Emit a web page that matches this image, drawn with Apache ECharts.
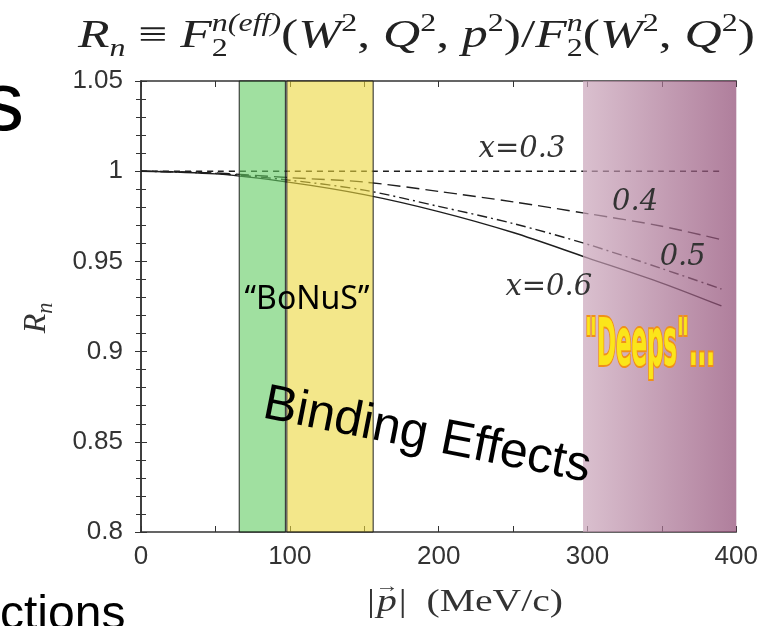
<!DOCTYPE html>
<html>
<head>
<meta charset="utf-8">
<title>Rn binding effects</title>
<script src="https://cdn.jsdelivr.net/npm/echarts@6/dist/echarts.min.js"></script>
<style>
  html, body { margin: 0; padding: 0; background: #fff; }
  #main { width: 761px; height: 626px; }
</style>
</head>
<body>
<div id="main"></div>
<script>
// |p| in MeV/c and R_n for each Bjorken x
var momenta = [0, 50, 100, 150, 200, 250, 300, 350, 390];
var rnX03 = [1.0, 1.0, 1.0, 1.0, 1.0, 1.0, 1.0, 1.0, 1.0];
var rnX04 = [1.0, 0.999, 0.9964, 0.994, 0.9888, 0.983, 0.9765, 0.9695, 0.962];
var rnX05 = [1.0, 0.9988, 0.995, 0.9895, 0.9805, 0.971, 0.9595, 0.946, 0.9347];
var rnX06 = [1.0, 0.9985, 0.9938, 0.987, 0.9776, 0.966, 0.952, 0.938, 0.9253];

var bonusRange = [66, 97];
var bindingRange = [98, 156];
var deepsRange = [297, 400];

var curveLabels = ['x=0.3', '0.4', '0.5', 'x=0.6'];
var labelAt = [[256, 1.0118], [332, 0.9824], [364, 0.9524], [274, 0.9358]];

var myChart = echarts.init(document.getElementById('main'));

var measureCtx = document.createElement('canvas').getContext('2d');
function fontOf(size, italic) {
    return (italic ? 'italic ' : '') + size + 'px "Liberation Serif"';
}
function textWidth(str, size, italic) {
    measureCtx.font = fontOf(size, italic);
    return measureCtx.measureText(str).width;
}

// lays out math-like pieces left to right, stacks share one x slot
function layoutPieces(pieces, size, startX, baseline, fill) {
    var els = [];
    var x = startX;
    pieces.forEach(function (pc) {
        var group = pc.stack || [pc];
        var w = 0;
        group.forEach(function (it) {
            w = Math.max(w, textWidth(it.t, size * (it.r || 1), it.i));
        });
        group.forEach(function (it) {
            var fs = size * (it.r || 1);
            var iw = textWidth(it.t, fs, it.i);
            els.push({
                type: 'text',
                silent: true,
                style: {
                    text: it.t,
                    x: x + (pc.center ? (w - iw) / 2 : 0) + (it.dx || 0) * size,
                    y: baseline + (it.dy || 0) * size - 0.3 * fs,
                    font: fontOf(fs, it.i),
                    fill: fill,
                    verticalAlign: 'middle'
                }
            });
        });
        x += w;
    });
    return {els: els, width: x - startX};
}

var SM = 0.62, SUP = -0.42, SUB = 0.24;
var titlePieces = [
    {t: 'R', i: true}, {t: 'n', i: true, r: SM, dy: SUB}, {t: ' \u2261 '},
    {t: 'F', i: true},
    {stack: [{t: 'n(eff)', i: true, r: SM, dy: SUP}, {t: '2', r: SM, dy: SUB}]},
    {t: '('}, {t: 'W', i: true}, {t: '2', r: SM, dy: SUP}, {t: ', '},
    {t: 'Q', i: true}, {t: '2', r: SM, dy: SUP}, {t: ', '},
    {t: 'p', i: true}, {t: '2', r: SM, dy: SUP}, {t: ')/'},
    {t: 'F', i: true},
    {stack: [{t: 'n', i: true, r: SM, dy: SUP}, {t: '2', r: SM, dy: SUB}]},
    {t: '('}, {t: 'W', i: true}, {t: '2', r: SM, dy: SUP}, {t: ', '},
    {t: 'Q', i: true}, {t: '2', r: SM, dy: SUP}, {t: ')'}
];
var titleLay = layoutPieces(titlePieces, 39, 0, 48, '#222');

var xNamePieces = [
    {t: '|'},
    {center: true, stack: [{t: 'p', i: true}, {t: '\u2192', r: 0.6, dy: -0.62}]},
    {t: '|'}, {t: '  (MeV/c)'}
];
var xNameLay = layoutPieces(xNamePieces, 31, 0, 612, '#333');
var xNameScale = 196 / xNameLay.width;

var yNamePieces = [{t: 'R', i: true}, {t: 'n', i: true, r: 0.7, dy: 0.2}];
var yNameProbe = layoutPieces(yNamePieces, 32, 0, 0, '#333');
var yNameLay = layoutPieces(yNamePieces, 32, -yNameProbe.width / 2, 10, '#333');

var deepsFont = 'bold 66px "DejaVu Sans Condensed"';
measureCtx.font = deepsFont;
var deepsScale = 130 / measureCtx.measureText('"Deeps"...').width;

function curve(values, dash, idx) {
    return {
        type: 'line',
        data: momenta.map(function (p, i) { return [p, values[i]]; }),
        smooth: 0.3,
        symbol: 'none',
        z: 2,
        lineStyle: {color: '#1e1e1e', width: 1.4, type: dash},
        markPoint: {
            symbol: 'circle',
            symbolSize: 1,
            itemStyle: {color: 'rgba(0,0,0,0)'},
            label: {
                show: true,
                position: 'inside',
                formatter: '{b}',
                fontFamily: 'DejaVu Serif',
                fontStyle: 'italic',
                fontSize: 29,
                color: '#333'
            },
            data: [{name: curveLabels[idx], coord: labelAt[idx]}]
        }
    };
}

var frameColor = '#333';
function xAx(pos, showLabel) {
    return {
        type: 'value', position: pos, min: 0, max: 400, interval: 100,
        axisLine: {show: true, lineStyle: {color: frameColor, width: 1.5}},
        axisTick: {show: true, inside: true, length: 6, lineStyle: {color: frameColor}},
        minorTick: {show: true, splitNumber: 2, length: 6, lineStyle: {color: frameColor}},
        axisLabel: {show: showLabel, fontSize: 26, color: '#333', margin: 12, fontFamily: 'Liberation Sans'},
        splitLine: {show: false}
    };
}
function yAx(pos, showLabel) {
    return {
        type: 'value', position: pos, min: 0.8, max: 1.05, interval: 0.05,
        axisLine: {show: true, lineStyle: {color: frameColor, width: 1.5}},
        axisTick: {show: true, inside: true, length: 6, lineStyle: {color: frameColor}},
        minorTick: {show: true, splitNumber: 5, length: 5, lineStyle: {color: frameColor}},
        axisLabel: {show: showLabel, fontSize: 26, color: '#333', margin: 18, fontFamily: 'Liberation Sans'},
        splitLine: {show: false}
    };
}

var deepsText = {
    text: '"Deeps"...', font: deepsFont,
    align: 'center', verticalAlign: 'middle'
};

var option = {
    animation: false,
    backgroundColor: '#fff',
    grid: {left: 141, right: 24, top: 81, bottom: 94},
    xAxis: [xAx('bottom', true), xAx('top', false)],
    yAxis: [yAx('left', true), yAx('right', false)],
    series: [
        curve(rnX03, [6, 5], 0),
        curve(rnX04, [13, 6], 1),
        curve(rnX05, [10, 4, 2, 4], 2),
        curve(rnX06, 'solid', 3),
        {
            type: 'line',
            data: [],
            z: 5,
            markArea: {
                silent: true,
                z: 5,
                data: [
                    [{xAxis: bonusRange[0], itemStyle: {color: 'rgba(97,203,97,0.6)', borderColor: '#222', borderWidth: 1}},
                     {xAxis: bonusRange[1]}],
                    [{xAxis: bindingRange[0], itemStyle: {color: 'rgba(235,215,60,0.6)', borderColor: '#222', borderWidth: 1}},
                     {xAxis: bindingRange[1]}],
                    [{xAxis: deepsRange[0], itemStyle: {
                        color: new echarts.graphic.LinearGradient(0, 0, 1, 0, [
                            {offset: 0, color: 'rgba(202,165,186,0.7)'},
                            {offset: 1, color: 'rgba(142,72,114,0.7)'}
                        ])}},
                     {xAxis: deepsRange[1]}]
                ]
            }
        }
    ],
    graphic: [
        {type: 'group', x: 78, scaleX: 677 / titleLay.width, children: titleLay.els},
        {type: 'group', x: 465 - 98, scaleX: xNameScale, children: xNameLay.els},
        {type: 'group', x: 36, y: 318, rotation: Math.PI / 2, children: yNameLay.els},
        {
            type: 'text', silent: true,
            style: {text: 's', x: 24, y: 149, font: '84px "Liberation Sans"', fill: '#000',
                    align: 'right', verticalAlign: 'bottom'}
        },
        {
            type: 'text', silent: true,
            style: {text: 'ctions', x: 0, y: 640, font: '48px "Liberation Sans"', fill: '#000',
                    verticalAlign: 'bottom'}
        },
        {
            type: 'text', silent: true, z: 10,
            style: {text: '\u201cBoNuS\u201d', x: 307, y: 300, font: '32px "Noto Sans"', fill: '#000',
                    align: 'center', verticalAlign: 'middle'}
        },
        {
            type: 'text', silent: true, z: 10, rotation: -0.195, x: 427, y: 436,
            style: {text: 'Binding Effects', font: '50px "Liberation Sans"', fill: '#000',
                    align: 'center', verticalAlign: 'middle'}
        },
        {
            type: 'text', silent: true, z: 10, x: 650, y: 348, scaleX: deepsScale,
            style: echarts.util.extend({
                fill: '#f7a51c', stroke: '#f0901a', lineWidth: 4,
                shadowBlur: 12, shadowColor: 'rgba(255,255,255,0.95)'
            }, deepsText)
        },
        {
            type: 'text', silent: true, z: 11, x: 650, y: 348, scaleX: deepsScale,
            style: echarts.util.extend({fill: '#fbe51a'}, deepsText)
        }
    ]
};

myChart.setOption(option);
</script>
</body>
</html>
